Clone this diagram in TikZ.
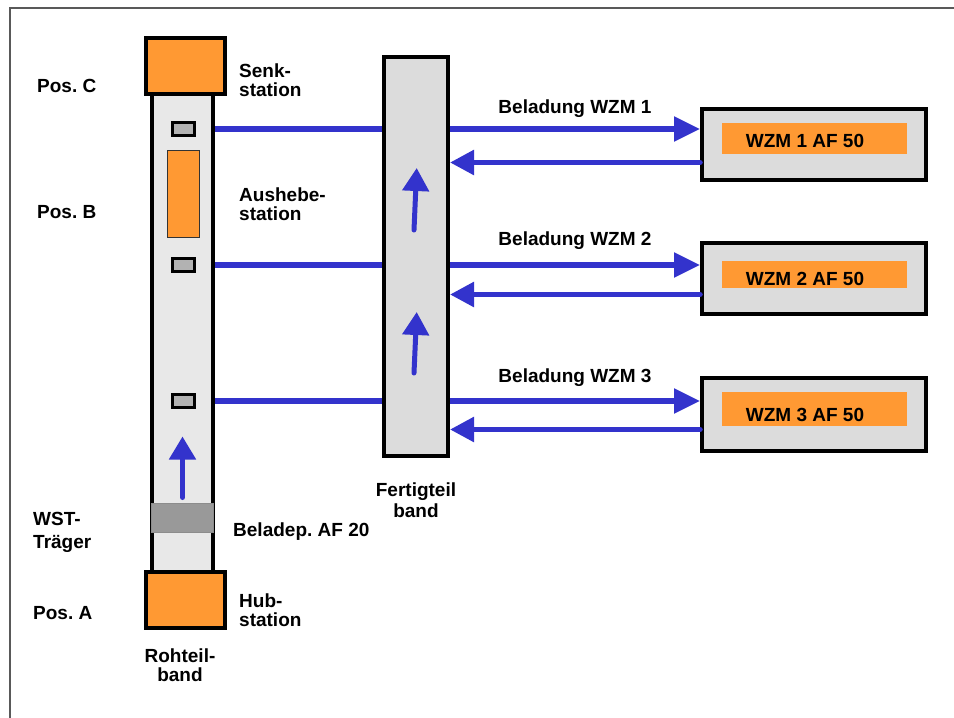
\documentclass[tikz,border=0pt]{standalone}
\usepackage{fontspec}
\setmainfont{Liberation Sans}
\usepackage{tikz}
\usetikzlibrary{positioning, arrows.meta}
\frenchspacing
\definecolor{orangefill}{RGB}{255,153,51}
\definecolor{bandgrau}{RGB}{232,232,232}
\definecolor{fertgrau}{RGB}{220,220,220}
\definecolor{sensgrau}{RGB}{178,178,178}
\definecolor{traegergrau}{RGB}{153,153,153}
\definecolor{flussblau}{RGB}{51,51,204}
\tikzset{
    beschr/.style   = {font=\bfseries\fontsize{19}{19}\selectfont, align=left, inner sep=0pt},
    kasten/.style   = {draw, line width=4pt, inner sep=0pt},
    band/.style     = {kasten, fill=bandgrau},
    station/.style  = {kasten, fill=orangefill, minimum width=79pt, minimum height=56pt},
    sensor/.style   = {draw, line width=2.6pt, fill=sensgrau, inner sep=0pt,
                       minimum width=22pt, minimum height=13pt},
    aushub/.style   = {draw=black!80, line width=1.2pt, fill=orangefill, inner sep=0pt,
                       minimum width=32pt, minimum height=87pt},
    traeger/.style  = {draw=black!45, line width=1pt, fill=traegergrau, inner sep=0pt,
                       minimum width=62pt, minimum height=29pt},
    maschine/.style = {kasten, fill=fertgrau, minimum width=224pt, minimum height=71pt},
    anzeige/.style  = {fill=orangefill, inner sep=0pt, minimum width=185pt, minimum height=31pt},
    fluss/.style    = {draw=flussblau, line width=5.5pt},
    pfeil/.style    = {fluss, -{Triangle[length=26pt, width=24pt]}},
    rueck/.style    = {fluss, line cap=round, -{Triangle[length=24pt, width=24pt]}},
    lauf/.style     = {draw=flussblau, line width=5pt, line cap=round,
                       -{Triangle[length=23pt, width=26pt]}},
    rahmen/.style   = {draw=black!65, line width=1.2pt}
}

\begin{document}
\begin{tikzpicture}[x=1pt, y=-1pt]
    \useasboundingbox (0,0) rectangle (954,718);
    \draw[rahmen] (10,718) -- (10,8) -- (954,8);

    % Rohteilband
    \node[band, minimum width=61pt, minimum height=530pt] (rohband) at (182.5,333) {};
    \node[traeger] (traeger) at (182.5,518) {};
    \node[sensor] (s1) at (183.5,129) {};
    \node[aushub] (aushebe) at (183.5,194) {};
    \node[sensor] (s2) at (183.5,265) {};
    \node[sensor] (s3) at (183.5,401) {};
    \node[station] (senk) at (185.5,66) {};
    \node[station] (hub) at (185.5,600) {};
    \draw[lauf] ([yshift=5.5pt]traeger.north) -- ++(0,-61);

    % Fertigteilband
    \node[kasten, fill=fertgrau, minimum width=64pt, minimum height=399pt] (fertband) at (416,256.5) {};
    \draw[lauf] (414,230) -- (416.7,168);
    \draw[lauf] (414,373) -- (416.7,312);

    % Maschinen
    \node[maschine] (wzm1) at (814,144.5) {};
    \node[maschine] (wzm2) at (814,278.5) {};
    \node[maschine, minimum height=73pt] (wzm3) at (814,414.5) {};
    \node[anzeige] (af1) at (814.5,138.5) {};
    \node[anzeige, minimum height=27pt] (af2) at (814.5,274.5) {};
    \node[anzeige, minimum height=34pt] (af3) at (814.5,409) {};
    \node[beschr, anchor=base] (af1txt) at ([xshift=-9.5pt, yshift=-8.5pt]af1.center) {WZM 1 AF 50};
    \node[beschr, anchor=base] (af2txt) at ([xshift=-9.5pt, yshift=-10.5pt]af2.center) {WZM 2 AF 50};
    \node[beschr, anchor=base] (af3txt) at ([xshift=-9.5pt, yshift=-12.7pt]af3.center) {WZM 3 AF 50};

    % Verbindungen
    \draw[fluss] (rohband.east |- s1) -- (fertband.west |- s1);
    \draw[fluss] (rohband.east |- s2) -- (fertband.west |- s2);
    \draw[fluss] (rohband.east |- s3) -- (fertband.west |- s3);
    \draw[pfeil] (fertband.east |- s1) -- (wzm1.west |- s1)
        node[beschr, midway, above=9pt] {Beladung WZM 1};
    \draw[pfeil] (fertband.east |- s2) -- (wzm2.west |- s2)
        node[beschr, midway, above=13pt] {Beladung WZM 2};
    \draw[pfeil] (fertband.east |- s3) -- (wzm3.west |- s3)
        node[beschr, midway, above=12pt] {Beladung WZM 3};
    \coordinate (r1) at ([yshift=-18pt]wzm1.west);
    \coordinate (r2) at ([yshift=-16pt]wzm2.west);
    \coordinate (r3) at ([yshift=-15pt]wzm3.west);
    \draw[rueck] (r1) -- (r1 -| fertband.east);
    \draw[rueck] (r2) -- (r2 -| fertband.east);
    \draw[rueck] (r3) -- (r3 -| fertband.east);

    % Beschriftung
    \node[beschr, anchor=west] (posc) at (37,86) {Pos. C};
    \node[beschr, anchor=west] (posb) at (37,212) {Pos. B};
    \node[beschr, anchor=west] (posa) at (33,613) {Pos. A};
    \node[beschr, anchor=west] (wst) at (33,532) {WST-\\[4pt]Träger};
    \node[beschr, right=12pt of senk, yshift=-14pt] (senklbl) {Senk-\\station};
    \node[beschr, anchor=west] (ausheblbl) at (239,204.5) {Aushebe-\\station};
    \node[beschr, anchor=west] (beladlbl) at (233,532) {Beladep. AF 20};
    \node[beschr, right=12pt of hub, yshift=-10.5pt] (hublbl) {Hub-\\station};
    \node[beschr, align=center, below=19pt of hub, xshift=-5.5pt] (rohlbl) {Rohteil-\\band};
    \node[beschr, align=center, below=25pt of fertband] (fertlbl) {Fertigteil\\[2pt]band};
\end{tikzpicture}
\end{document}
